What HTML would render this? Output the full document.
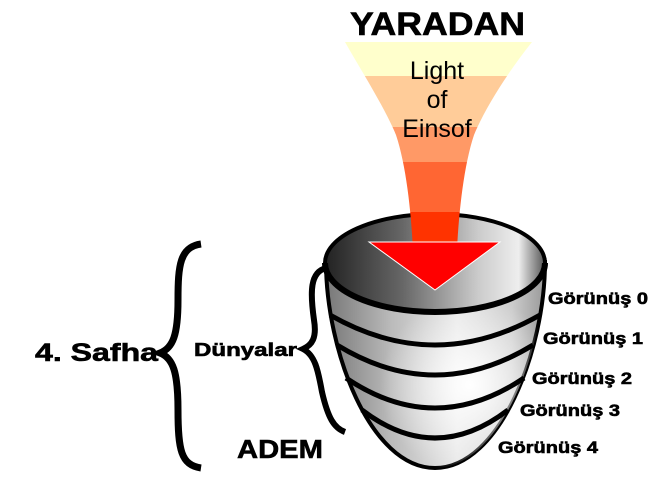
<!DOCTYPE html>
<html><head><meta charset="utf-8"><style>
html,body{margin:0;padding:0;background:#fff;width:670px;height:492px;overflow:hidden}
svg{display:block}
text{font-family:"Liberation Sans",sans-serif;font-weight:bold;fill:#000}
.b{stroke:#000;stroke-width:0.6}
</style></head><body>
<svg width="670" height="492" viewBox="0 0 670 492">
<defs>
<linearGradient id="body" x1="0" x2="1" y1="0" y2="0">
<stop offset="0" stop-color="#777"/><stop offset="0.3" stop-color="#bbb"/><stop offset="0.6" stop-color="#e8e8e8"/><stop offset="0.85" stop-color="#ccc"/><stop offset="1" stop-color="#999"/>
</linearGradient>
<radialGradient id="hl" cx="470" cy="385" r="90" gradientUnits="userSpaceOnUse">
<stop offset="0" stop-color="#fff" stop-opacity="1"/><stop offset="1" stop-color="#fff" stop-opacity="0"/>
</radialGradient>
<linearGradient id="inner" x1="0" x2="1" y1="0" y2="0">
<stop offset="0" stop-color="#222"/><stop offset="0.35" stop-color="#666"/><stop offset="0.7" stop-color="#ccc"/><stop offset="0.88" stop-color="#eee"/><stop offset="1" stop-color="#555"/>
</linearGradient>
<clipPath id="fun"><path d="M345,42 C362,72 385,108 396,135 C406,165 411,210 413,250 L457,250 C459,210 464,165 474,135 C485,108 508,72 532,42 Z"/></clipPath>
</defs>

<text x="350" y="35" font-size="32" textLength="175" lengthAdjust="spacingAndGlyphs" class="b">YARADAN</text>

<path d="M326,262 C326,350 370,468 435,468 C500,468 545,350 545,262 Z" fill="url(#body)" stroke="#000" stroke-width="4"/>
<path d="M326,262 C326,350 370,468 435,468 C500,468 545,350 545,262 Z" fill="url(#hl)"/>
<ellipse cx="435" cy="263" rx="110" ry="49" fill="url(#inner)"/>
<path d="M325,263 A110,49 0 0 1 545,263" fill="none" stroke="#000" stroke-width="4"/>
<path d="M325,263 A110,49 0 0 0 545,263" fill="none" stroke="#000" stroke-width="6"/>
<g fill="none" stroke="#000" stroke-width="5">
<path d="M330,315 Q435,375 540,315"/>
<path d="M337,345 Q435,405 533,345"/>
<path d="M346,378 Q435,438 524,378"/>
<path d="M362,410 Q435,466 508,410"/>
</g>

<g clip-path="url(#fun)">
<rect x="340" y="40" width="200" height="36" fill="#ffffcc"/>
<rect x="340" y="76" width="200" height="51" fill="#ffcc99"/>
<rect x="340" y="127" width="200" height="35" fill="#ff9966"/>
<rect x="340" y="162" width="200" height="50" fill="#ff6633"/>
<rect x="340" y="212" width="200" height="40" fill="#ff3300"/>
</g>
<polygon points="369,242 500,242 435,290" fill="#ff0000" stroke="#fff" stroke-width="1"/>
<text x="437" y="79" font-size="25" text-anchor="middle" style="font-weight:normal" fill="#111">Light</text>
<text x="437" y="108" font-size="25" text-anchor="middle" style="font-weight:normal" fill="#111">of</text>
<text x="437" y="137" font-size="25" text-anchor="middle" style="font-weight:normal" fill="#111">Einsof</text>

<path d="M201,244 C180,247 178,265 178,300 C178,335 173,348 160,353 C173,358 178,372 178,410 C178,450 181,465 201,468" fill="none" stroke="#000" stroke-width="7"/>
<path d="M326,268 C310,272 310,292 314,320 C317,338 312,345 303,349 C315,355 318,370 322,392 C328,418 334,428 345,432" fill="none" stroke="#000" stroke-width="6"/>

<text x="35" y="361" font-size="25" textLength="123" lengthAdjust="spacingAndGlyphs" class="b">4. Safha</text>
<text x="194" y="356" font-size="18" textLength="103" lengthAdjust="spacingAndGlyphs" class="b">Dünyalar</text>
<text x="237" y="458" font-size="26" textLength="86" lengthAdjust="spacingAndGlyphs" class="b">ADEM</text>

<g font-size="17" class="b">
<text x="548" y="304" textLength="100" lengthAdjust="spacingAndGlyphs">Görünüş 0</text>
<text x="543" y="344" textLength="100" lengthAdjust="spacingAndGlyphs">Görünüş 1</text>
<text x="532" y="384" textLength="100" lengthAdjust="spacingAndGlyphs">Görünüş 2</text>
<text x="520" y="416" textLength="100" lengthAdjust="spacingAndGlyphs">Görünüş 3</text>
<text x="498" y="453" textLength="100" lengthAdjust="spacingAndGlyphs">Görünüş 4</text>
</g>
</svg>
</body></html>
